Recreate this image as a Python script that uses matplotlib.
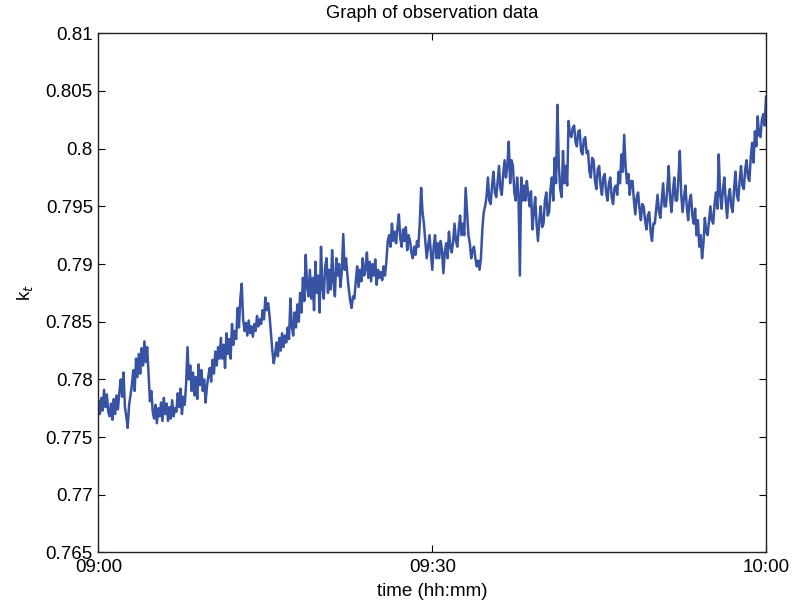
import matplotlib
matplotlib.use("Agg")
import matplotlib.pyplot as plt

plt.rcParams['font.family'] = ['Liberation Sans', 'DejaVu Sans']

# minutes after 09:00, one reading every 7.5 s (8 per row = 1 minute)
step = 0.125
kt = [
    0.7781, 0.7770, 0.7784, 0.7773, 0.7791, 0.7776, 0.7787, 0.7772,   # 09:00
    0.7768, 0.7779, 0.7765, 0.7783, 0.7770, 0.7786, 0.7774, 0.7789,
    0.7800, 0.7785, 0.7806, 0.7776, 0.7768, 0.7758, 0.7778, 0.7786,
    0.7795, 0.7808, 0.7790, 0.7818, 0.7802, 0.7822, 0.7805, 0.7827,
    0.7812, 0.7833, 0.7815, 0.7828, 0.7805, 0.7781, 0.7790, 0.7772,
    0.7766, 0.7778, 0.7762, 0.7775, 0.7768, 0.7780, 0.7764, 0.7784,   # 09:05
    0.7770, 0.7779, 0.7764, 0.7776, 0.7766, 0.7782, 0.7768, 0.7775,
    0.7772, 0.7788, 0.7776, 0.7792, 0.7770, 0.7785, 0.7778, 0.7796,
    0.7828, 0.7800, 0.7812, 0.7790, 0.7806, 0.7786, 0.7802, 0.7783,
    0.7813, 0.7795, 0.7808, 0.7790, 0.7800, 0.7780, 0.7794, 0.7803,
    0.7810, 0.7798, 0.7817, 0.7805, 0.7824, 0.7812, 0.7828, 0.7818,   # 09:10
    0.7836, 0.7818, 0.7830, 0.7810, 0.7840, 0.7822, 0.7835, 0.7818,
    0.7848, 0.7830, 0.7842, 0.7835, 0.7862, 0.7845, 0.7870, 0.7883,
    0.7852, 0.7842, 0.7849, 0.7838, 0.7851, 0.7840, 0.7846, 0.7837,
    0.7848, 0.7842, 0.7855, 0.7846, 0.7852, 0.7848, 0.7860, 0.7852,
    0.7871, 0.7860, 0.7866, 0.7855, 0.7840, 0.7825, 0.7814, 0.7822,   # 09:15
    0.7832, 0.7820, 0.7836, 0.7825, 0.7840, 0.7828, 0.7838, 0.7832,
    0.7845, 0.7835, 0.7870, 0.7846, 0.7838, 0.7858, 0.7845, 0.7865,
    0.7850, 0.7875, 0.7858, 0.7888, 0.7868, 0.7908, 0.7880, 0.7872,
    0.7895, 0.7870, 0.7888, 0.7860, 0.7902, 0.7875, 0.7890, 0.7858,
    0.7915, 0.7880, 0.7870, 0.7898, 0.7905, 0.7875, 0.7895, 0.7878,   # 09:20
    0.7912, 0.7885, 0.7872, 0.7905, 0.7890, 0.7900, 0.7880, 0.7895,
    0.7926, 0.7895, 0.7905, 0.7890, 0.7878, 0.7868, 0.7862, 0.7872,
    0.7870, 0.7885, 0.7898, 0.7880, 0.7895, 0.7885, 0.7905, 0.7890,
    0.7895, 0.7910, 0.7888, 0.7902, 0.7885, 0.7900, 0.7890, 0.7904,
    0.7882, 0.7895, 0.7888, 0.7893, 0.7886, 0.7898, 0.7890, 0.7902,   # 09:25
    0.7920, 0.7925, 0.7915, 0.7935, 0.7920, 0.7928, 0.7918, 0.7932,
    0.7943, 0.7922, 0.7915, 0.7930, 0.7920, 0.7932, 0.7912, 0.7925,
    0.7920, 0.7910, 0.7905, 0.7915, 0.7908, 0.7920, 0.7915, 0.7935,
    0.7966, 0.7945, 0.7935, 0.7920, 0.7905, 0.7915, 0.7925, 0.7910,
    0.7895, 0.7915, 0.7925, 0.7905, 0.7918, 0.7905, 0.7920, 0.7912,   # 09:30
    0.7892, 0.7910, 0.7918, 0.7905, 0.7928, 0.7915, 0.7910, 0.7920,
    0.7935, 0.7920, 0.7915, 0.7930, 0.7942, 0.7925, 0.7935, 0.7925,
    0.7966, 0.7945, 0.7925, 0.7918, 0.7905, 0.7912, 0.7915, 0.7905,
    0.7898, 0.7903, 0.7895, 0.7905, 0.7930, 0.7945, 0.7950, 0.7958,
    0.7975, 0.7955, 0.7952, 0.7968, 0.7980, 0.7962, 0.7958, 0.7972,   # 09:35
    0.7985, 0.7965, 0.7960, 0.7978, 0.7990, 0.7975, 0.7985, 0.8006,
    0.7970, 0.7990, 0.7985, 0.7962, 0.7955, 0.7975, 0.7960, 0.7890,
    0.7975, 0.7955, 0.7968, 0.7955, 0.7972, 0.7960, 0.7950, 0.7963,
    0.7930, 0.7945, 0.7958, 0.7935, 0.7920, 0.7938, 0.7950, 0.7932,
    0.7935, 0.7955, 0.7962, 0.7942, 0.7945, 0.7965, 0.7975, 0.7955,   # 09:40
    0.7992, 0.7970, 0.8038, 0.7985, 0.7965, 0.7958, 0.7998, 0.7970,
    0.7985, 0.7968, 0.8024, 0.8012, 0.8010, 0.8018, 0.8020, 0.8006,
    0.8002, 0.8015, 0.8016, 0.7998, 0.7995, 0.8008, 0.8010, 0.7996,
    0.7998, 0.7980, 0.7975, 0.7992, 0.7990, 0.7972, 0.7965, 0.7982,
    0.7985, 0.7968, 0.7960, 0.7975, 0.7978, 0.7962, 0.7955, 0.7970,   # 09:45
    0.7975, 0.7958, 0.7952, 0.7966, 0.7968, 0.7960, 0.7980, 0.7970,
    0.7995, 0.7980, 0.8012, 0.7985, 0.7970, 0.7978, 0.7960, 0.7972,
    0.7972, 0.7955, 0.7943, 0.7958, 0.7962, 0.7948, 0.7938, 0.7952,
    0.7950, 0.7938, 0.7930, 0.7942, 0.7945, 0.7928, 0.7920, 0.7935,
    0.7935, 0.7948, 0.7960, 0.7945, 0.7940, 0.7955, 0.7970, 0.7950,   # 09:50
    0.7950, 0.7965, 0.7985, 0.7958, 0.7945, 0.7962, 0.7975, 0.7955,
    0.7955, 0.7975, 0.7998, 0.7960, 0.7945, 0.7958, 0.7968, 0.7950,
    0.7938, 0.7955, 0.7960, 0.7942, 0.7935, 0.7948, 0.7925, 0.7938,
    0.7915, 0.7925, 0.7905, 0.7918, 0.7940, 0.7928, 0.7925, 0.7938,
    0.7950, 0.7938, 0.7935, 0.7952, 0.7962, 0.7948, 0.7995, 0.7960,   # 09:55
    0.7948, 0.7965, 0.7975, 0.7955, 0.7940, 0.7958, 0.7965, 0.7950,
    0.7945, 0.7965, 0.7980, 0.7960, 0.7955, 0.7972, 0.7985, 0.7968,
    0.7965, 0.7982, 0.7990, 0.7975, 0.7972, 0.7992, 0.8005, 0.7988,
    0.8015, 0.8002, 0.8028, 0.8012, 0.8010, 0.8025, 0.8030, 0.8020,
    0.8045,                                                           # 10:00
]
minutes = [i * step for i in range(len(kt))]

xtick_pos = [0, 30, 60]
xtick_labels = ['09:00', '09:30', '10:00']
ytick_pos = [0.765, 0.77, 0.775, 0.78, 0.785, 0.79, 0.795, 0.8, 0.805, 0.81]
ytick_labels = ['0.765', '0.77', '0.775', '0.78', '0.785', '0.79',
                '0.795', '0.8', '0.805', '0.81']

fig = plt.figure(figsize=(7.93, 6.05), dpi=100)
ax = fig.add_axes([0.1242, 0.0868, 0.8418, 0.8582])

ax.plot(minutes, kt, color='#3953a4', linewidth=1.8)

ax.set_xlim(0, 60)
ax.set_ylim(0.765, 0.81)
ax.set_xticks(xtick_pos)
ax.set_xticklabels(xtick_labels)
ax.set_yticks(ytick_pos)
ax.set_yticklabels(ytick_labels)
ax.tick_params(direction='in', top=True, right=True, length=5,
               width=0.8, labelsize=13.5)
ax.tick_params(axis='y', pad=4)
ax.tick_params(axis='x', pad=5)
for s in ax.spines.values():
    s.set_linewidth(1.0)
    s.set_color('#222222')

ax.set_title('Graph of observation data', fontsize=13.2, pad=11)
ax.set_xlabel('time (hh:mm)', fontsize=13.5, labelpad=5)
ax.set_ylabel('k$_t$', fontsize=13.5, labelpad=7)

fig.savefig('out.png', dpi=100)
